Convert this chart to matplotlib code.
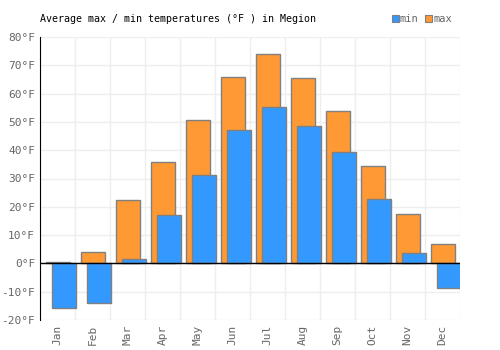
import numpy as np
import matplotlib.pyplot as plt
from matplotlib.patches import Rectangle

months = ['Jan', 'Feb', 'Mar', 'Apr', 'May', 'Jun', 'Jul', 'Aug', 'Sep', 'Oct', 'Nov', 'Dec']
t_max = [0.6, 4.2, 22.3, 36.0, 50.5, 66.0, 73.9, 65.4, 54.0, 34.3, 17.3, 7.0]
t_min = [-15.9, -14.1, 1.4, 17.0, 31.4, 47.3, 55.1, 48.4, 39.2, 22.6, 3.5, -8.8]
yticks = [-20, -10, 0, 10, 20, 30, 40, 50, 60, 70, 80]

font = 'DejaVu Sans Mono'
orange = '#ff9933'
blue = '#3399ff'
edge = '#808080'
grey = '#666666'

fig = plt.figure(figsize=(5, 3.5), dpi=100)
ax = fig.add_axes([0.08, 0.0857, 0.84, 0.8086])

x = np.arange(len(months))
w = 0.686
ax.bar(x + 0.171, t_max, width=w, align='edge', color=orange, edgecolor=edge, linewidth=1, zorder=2)
ax.bar(x + 0.33, t_min, width=w, align='edge', color=blue, edgecolor=edge, linewidth=1, zorder=3)

ax.set_xlim(0, 12)
ax.set_ylim(-20, 80)
ax.axhline(0, color='black', linewidth=1, zorder=4)

ax.set_xticks(x + 0.5)
ax.set_xticklabels(months, rotation=90, fontfamily=font, fontsize=8, color=grey)
ax.set_xticks(np.arange(13), minor=True)
ax.set_yticks(yticks)
ax.set_yticklabels([f'{v}°F' for v in yticks], fontfamily=font, fontsize=8, color=grey)
ax.tick_params(axis='both', which='both', length=0)
ax.grid(True, which='minor', axis='x', color='#eeeeee', linewidth=1, zorder=0)
ax.grid(True, which='major', axis='y', color='#eeeeee', linewidth=1, zorder=0)
ax.set_axisbelow(True)

for s in ['top', 'right', 'bottom']:
    ax.spines[s].set_visible(False)
ax.spines['left'].set_color('black')

fig.text(0.08, 0.945, 'Average max / min temperatures (°F ) in Megion', fontfamily=font,
         fontsize=7.2, color='black', va='center')

# legend
fig.patches.append(Rectangle((0.783, 0.937), 0.014, 0.02, transform=fig.transFigure,
                             facecolor=blue, edgecolor=edge, linewidth=0.8))
fig.text(0.8, 0.945, 'min', fontfamily=font, fontsize=7.5, color=grey, va='center')
fig.patches.append(Rectangle((0.85, 0.937), 0.014, 0.02, transform=fig.transFigure,
                             facecolor=orange, edgecolor=edge, linewidth=0.8))
fig.text(0.867, 0.945, 'max', fontfamily=font, fontsize=7.5, color=grey, va='center')

fig.savefig('out.png', dpi=100)
